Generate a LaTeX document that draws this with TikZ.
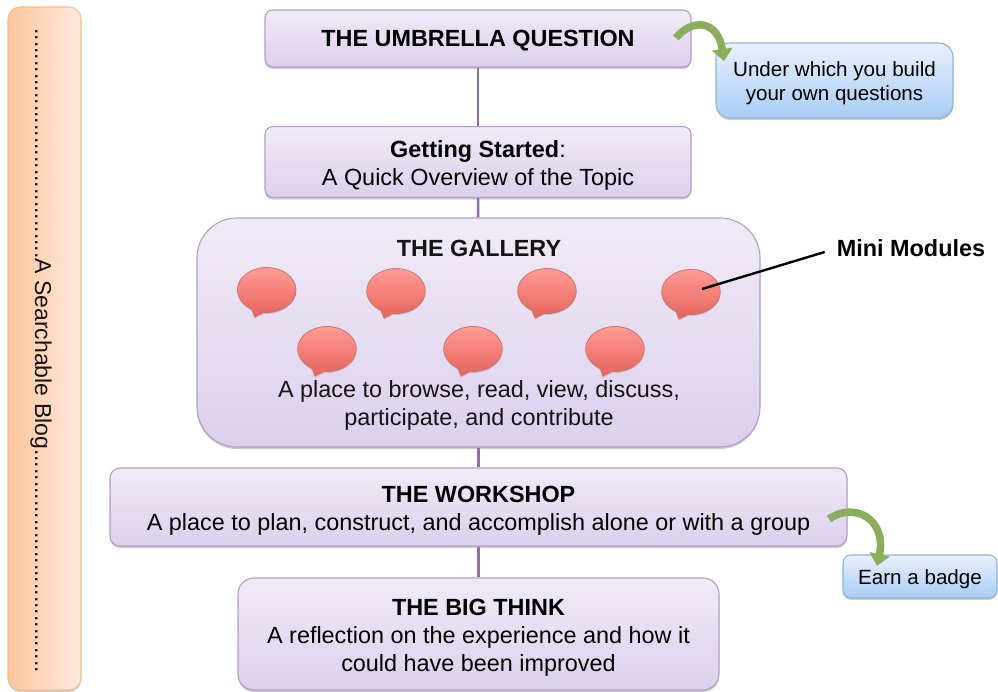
\documentclass[tikz,border=0pt]{standalone}
\usepackage{fontspec}
\setmainfont{Liberation Sans}
\usetikzlibrary{arrows.meta,shadows,calc}
\definecolor{purpT}{HTML}{F1EBF7}
\definecolor{purpB}{HTML}{DCD0EC}
\definecolor{purpE}{HTML}{B49DC8}
\definecolor{linkC}{HTML}{8F6FA8}
\definecolor{blueT}{HTML}{E9F1FC}
\definecolor{blueB}{HTML}{A9CDF5}
\definecolor{blueE}{HTML}{8DB5D8}
\definecolor{orL}{HTML}{FFC69B}
\definecolor{orR}{HTML}{FFEADD}
\definecolor{orE}{HTML}{F2BE92}
\definecolor{redT}{HTML}{FF9C96}
\definecolor{redB}{HTML}{E7635B}
\definecolor{redE}{HTML}{CC746E}
\definecolor{grn}{HTML}{8CAE5C}
\newcommand{\bigsize}{\fontsize{23.4}{28}\selectfont}
\newcommand{\smallsize}{\fontsize{20.6}{24}\selectfont}
\newcommand{\lowline}[1]{\rule{0pt}{#1pt}}
\tikzset{
  softshadow/.style={drop shadow={shadow xshift=0pt,shadow yshift=-2pt,opacity=.28,fill=black!70}},
  purplebox/.style={draw=purpE,line width=1.1pt,top color=purpT,bottom color=purpB,inner sep=0pt,softshadow,rectangle,align=center,font=\bigsize},
  bluebox/.style={draw=blueE,line width=1.1pt,top color=blueT,bottom color=blueB,inner sep=0pt,softshadow,rectangle,align=center,font=\smallsize},
  orangebox/.style={draw=orE,line width=1.1pt,left color=orL,right color=orR,inner sep=0pt,softshadow,rectangle},
  txt/.style={font=\bigsize,align=center,inner sep=0pt,text=black!92},
  link/.style={draw=linkC,line width=2.6pt},
  curl/.style={draw=grn,line width=7.5pt,-{Triangle[length=12pt,width=20pt,fill=grn]}},
  pics/bubble/.style={code={
    \path[draw=redE,line width=.8pt,top color=redT,bottom color=redB,drop shadow={shadow xshift=0pt,shadow yshift=-1.5pt,opacity=.2,fill=black!70}]
      (-12,27) -- (-15,19.2) .. controls (-23,15.5) and (-29.3,8) .. (-29.3,0)
      .. controls (-29.3,-12.5) and (-16,-22.5) .. (0,-22.5)
      .. controls (16,-22.5) and (29.3,-12.5) .. (29.3,0)
      .. controls (29.3,12.5) and (16,22.5) .. (0,22.5)
      -- (-3,22.4) -- cycle;
  }}
}
\begin{document}
\begin{tikzpicture}[x=1pt,y=-1pt]
\useasboundingbox (0,0) rectangle (998,691);
\node[orangebox,minimum width=73pt,minimum height=683pt,rounded corners=12pt] (blog) at (44.5,348.5) {};
\node[txt,font=\fontsize{23}{28}\selectfont,rotate=-90,anchor=center] (blogtext) at (41,350.5) {....................................A Searchable Blog...................................};

\node[purplebox,minimum width=426pt,minimum height=57pt,rounded corners=8pt] (umbrella) at (478,38.5) {\lowline{21}\textbf{THE UMBRELLA QUESTION}};
\node[purplebox,minimum width=426pt,minimum height=71pt,rounded corners=8pt] (start) at (478,162) {\lowline{23}\textbf{Getting Started}:\\A Quick Overview of the Topic};
\node[purplebox,minimum width=563pt,minimum height=229pt,rounded corners=40pt] (gallery) at (478.5,332.5) {};
\node[purplebox,minimum width=737pt,minimum height=78pt,rounded corners=10pt] (workshop) at (478.5,507) {\lowline{23}\textbf{THE WORKSHOP}\\A place to plan, construct, and accomplish alone or with a group};
\node[purplebox,minimum width=481pt,minimum height=112pt,rounded corners=16pt] (bigthink) at (478.5,634) {\lowline{23}\textbf{THE BIG THINK}\\A reflection on the experience and how it\\could have been improved};
\node[bluebox,minimum width=237pt,minimum height=75pt,rounded corners=14pt] (under) at (834.5,80.5) {\lowline{21}Under which you build\\your own questions};
\node[bluebox,minimum width=154pt,minimum height=43pt,rounded corners=8pt] (badge) at (920,576.5) {\lowline{21}Earn a badge};

\draw[link] (umbrella) -- (start);
\draw[link] (start) -- (gallery);
\draw[link] (gallery) -- (workshop);
\draw[link] (workshop) -- (bigthink);

\node[txt,font=\bigsize\bfseries] (gtitle) at (479,248.5) {THE GALLERY};
\node[txt] (gtext) at (479,405.5) {A place to browse, read, view, discuss,\\participate, and contribute};

\pic at (266.7,290) {bubble};
\pic at (396,291) {bubble};
\pic at (547,291) {bubble};
\pic at (691,292) {bubble};
\pic at (327,349) {bubble};
\pic at (473,349) {bubble};
\pic at (615,349) {bubble};

\node[inner sep=0pt,font=\bigsize\bfseries] (mini) at (911,248) {Mini Modules};
\coordinate (m4) at (702,289);
\draw[black,line width=2.4pt] (mini.west)+(-12,4) coordinate (mw) (mw) -- (m4);

\coordinate (cu1) at (676,38);
\coordinate (cu2) at (724,61);
\draw[curl] (cu1) .. controls (692,18) and (718,20) .. (cu2);
\coordinate (cb1) at (829,519);
\coordinate (cb2) at (877,566);
\draw[curl] (cb1) .. controls (855,501) and (887,520) .. (cb2);
\end{tikzpicture}
\end{document}
